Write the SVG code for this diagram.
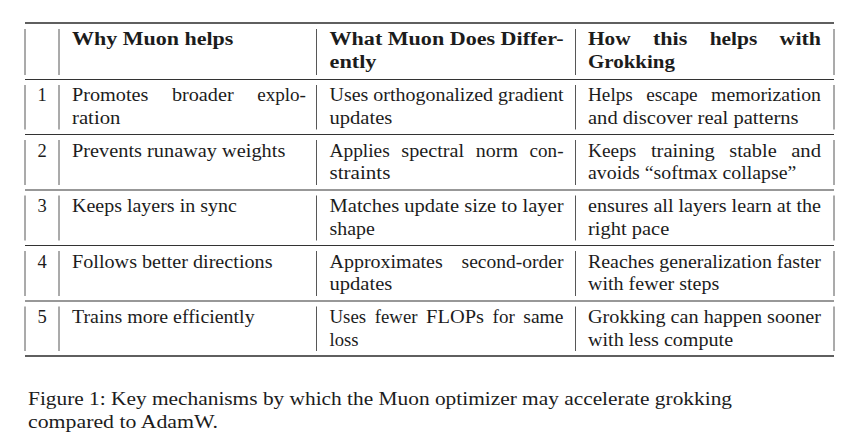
<svg xmlns="http://www.w3.org/2000/svg" width="860" height="438" viewBox="0 0 860 438">
<style>
text{font-family:"Liberation Serif","Times New Roman",serif;font-size:18.5px;fill:#1c1c1c}
.b{font-weight:bold}
.c{font-size:19.6px}
.n{text-anchor:middle}
.rule{stroke:#2a2a2a;stroke-width:1.7}
.mid{stroke:#333;stroke-width:1.1}
.v{stroke:#444;stroke-width:0.9}
</style>
<rect width="860" height="438" fill="#fff"/>
<g id="rules">
<line class="rule" x1="25" y1="23" x2="834" y2="23"/>
<line class="mid" x1="25" y1="79.5" x2="834" y2="79.5"/>
<line class="mid" x1="25" y1="134.5" x2="834" y2="134.5"/>
<line class="mid" x1="25" y1="190" x2="834" y2="190"/>
<line class="mid" x1="25" y1="245.5" x2="834" y2="245.5"/>
<line class="mid" x1="25" y1="301" x2="834" y2="301"/>
<line class="rule" x1="25" y1="356" x2="834" y2="356"/>
</g>
<g id="verticals">
<path class="v" d="M25 29V75M59 29V75M316.5 29V75M575.5 29V75M834 29V75"/>
<path class="v" d="M25 85V129.5M59 85V129.5M316.5 85V129.5M575.5 85V129.5M834 85V129.5"/>
<path class="v" d="M25 140V185M59 140V185M316.5 140V185M575.5 140V185M834 140V185"/>
<path class="v" d="M25 195.5V240.5M59 195.5V240.5M316.5 195.5V240.5M575.5 195.5V240.5M834 195.5V240.5"/>
<path class="v" d="M25 251V296M59 251V296M316.5 251V296M575.5 251V296M834 251V296"/>
<path class="v" d="M25 306.5V351M59 306.5V351M316.5 306.5V351M575.5 306.5V351M834 306.5V351"/>
</g>
<g id="header">
<text class="b" x="72" y="45" textLength="161.4" lengthAdjust="spacingAndGlyphs">Why Muon helps</text>
<text class="b" x="329.5" y="45" textLength="234" lengthAdjust="spacingAndGlyphs">What Muon Does Differ-</text>
<text class="b" x="329.5" y="67.5" textLength="47" lengthAdjust="spacingAndGlyphs">ently</text>
<text class="b" x="588" y="45" textLength="42.66" lengthAdjust="spacingAndGlyphs">How</text>
<text class="b" x="652.96" y="45" textLength="34.39" lengthAdjust="spacingAndGlyphs">this</text>
<text class="b" x="709.65" y="45" textLength="47.69" lengthAdjust="spacingAndGlyphs">helps</text>
<text class="b" x="779.64" y="45" textLength="41.37" lengthAdjust="spacingAndGlyphs">with</text>
<text class="b" x="588" y="67.5" textLength="86.9" lengthAdjust="spacingAndGlyphs">Grokking</text>
</g>
<g id="row1">
<text class="n" x="42" y="101">1</text>
<text x="72" y="101" textLength="76.46" lengthAdjust="spacingAndGlyphs">Promotes</text>
<text x="171.92" y="101" textLength="61.79" lengthAdjust="spacingAndGlyphs">broader</text>
<text x="257.17" y="101" textLength="48.82" lengthAdjust="spacingAndGlyphs">explo-</text>
<text x="72" y="123.5" textLength="48.4" lengthAdjust="spacingAndGlyphs">ration</text>
<text x="329.5" y="101" textLength="234" lengthAdjust="spacingAndGlyphs">Uses orthogonalized gradient</text>
<text x="329.5" y="123.5" textLength="62.8" lengthAdjust="spacingAndGlyphs">updates</text>
<text x="588" y="101" textLength="44.81" lengthAdjust="spacingAndGlyphs">Helps</text>
<text x="646.16" y="101" textLength="51.47" lengthAdjust="spacingAndGlyphs">escape</text>
<text x="710.98" y="101" textLength="110.02" lengthAdjust="spacingAndGlyphs">memorization</text>
<text x="588" y="123.5" textLength="210.5" lengthAdjust="spacingAndGlyphs">and discover real patterns</text>
</g>
<g id="row2">
<text class="n" x="42" y="156.5">2</text>
<text x="72" y="156.5" textLength="213.3" lengthAdjust="spacingAndGlyphs">Prevents runaway weights</text>
<text x="329.5" y="156.5" textLength="60.24" lengthAdjust="spacingAndGlyphs">Applies</text>
<text x="401.34" y="156.5" textLength="62.84" lengthAdjust="spacingAndGlyphs">spectral</text>
<text x="475.78" y="156.5" textLength="42.2" lengthAdjust="spacingAndGlyphs">norm</text>
<text x="529.58" y="156.5" textLength="33.91" lengthAdjust="spacingAndGlyphs">con-</text>
<text x="329.5" y="179" textLength="60.9" lengthAdjust="spacingAndGlyphs">straints</text>
<text x="588" y="156.5" textLength="48.4" lengthAdjust="spacingAndGlyphs">Keeps</text>
<text x="650.93" y="156.5" textLength="63.81" lengthAdjust="spacingAndGlyphs">training</text>
<text x="729.27" y="156.5" textLength="47.38" lengthAdjust="spacingAndGlyphs">stable</text>
<text x="791.18" y="156.5" textLength="29.82" lengthAdjust="spacingAndGlyphs">and</text>
<text x="588" y="179" textLength="208.4" lengthAdjust="spacingAndGlyphs">avoids “softmax collapse”</text>
</g>
<g id="row3">
<text class="n" x="42" y="212">3</text>
<text x="72" y="212" textLength="164.8" lengthAdjust="spacingAndGlyphs">Keeps layers in sync</text>
<text x="329.5" y="212" textLength="234" lengthAdjust="spacingAndGlyphs">Matches update size to layer</text>
<text x="329.5" y="234.5" textLength="45.3" lengthAdjust="spacingAndGlyphs">shape</text>
<text x="588" y="212" textLength="233" lengthAdjust="spacingAndGlyphs">ensures all layers learn at the</text>
<text x="588" y="234.5" textLength="81.3" lengthAdjust="spacingAndGlyphs">right pace</text>
</g>
<g id="row4">
<text class="n" x="42" y="267.5">4</text>
<text x="72" y="267.5" textLength="200.5" lengthAdjust="spacingAndGlyphs">Follows better directions</text>
<text x="329.5" y="267.5" textLength="113.22" lengthAdjust="spacingAndGlyphs">Approximates</text>
<text x="461.55" y="267.5" textLength="101.95" lengthAdjust="spacingAndGlyphs">second-order</text>
<text x="329.5" y="290" textLength="62.8" lengthAdjust="spacingAndGlyphs">updates</text>
<text x="588" y="267.5" textLength="233" lengthAdjust="spacingAndGlyphs">Reaches generalization faster</text>
<text x="588" y="290" textLength="131.3" lengthAdjust="spacingAndGlyphs">with fewer steps</text>
</g>
<g id="row5">
<text class="n" x="42" y="323">5</text>
<text x="72" y="323" textLength="182.6" lengthAdjust="spacingAndGlyphs">Trains more efficiently</text>
<text x="329.5" y="323" textLength="36.67" lengthAdjust="spacingAndGlyphs">Uses</text>
<text x="374.77" y="323" textLength="42.7" lengthAdjust="spacingAndGlyphs">fewer</text>
<text x="426.07" y="323" textLength="57.92" lengthAdjust="spacingAndGlyphs">FLOPs</text>
<text x="492.59" y="323" textLength="22.16" lengthAdjust="spacingAndGlyphs">for</text>
<text x="523.35" y="323" textLength="40.16" lengthAdjust="spacingAndGlyphs">same</text>
<text x="329.5" y="345.5" textLength="29" lengthAdjust="spacingAndGlyphs">loss</text>
<text x="588" y="323" textLength="233" lengthAdjust="spacingAndGlyphs">Grokking can happen sooner</text>
<text x="588" y="345.5" textLength="145.1" lengthAdjust="spacingAndGlyphs">with less compute</text>
</g>
<g id="caption">
<text class="c" x="28" y="405" textLength="704" lengthAdjust="spacingAndGlyphs">Figure 1: Key mechanisms by which the Muon optimizer may accelerate grokking</text>
<text class="c" x="28" y="428" textLength="190" lengthAdjust="spacingAndGlyphs">compared to AdamW.</text>
</g>
</svg>
